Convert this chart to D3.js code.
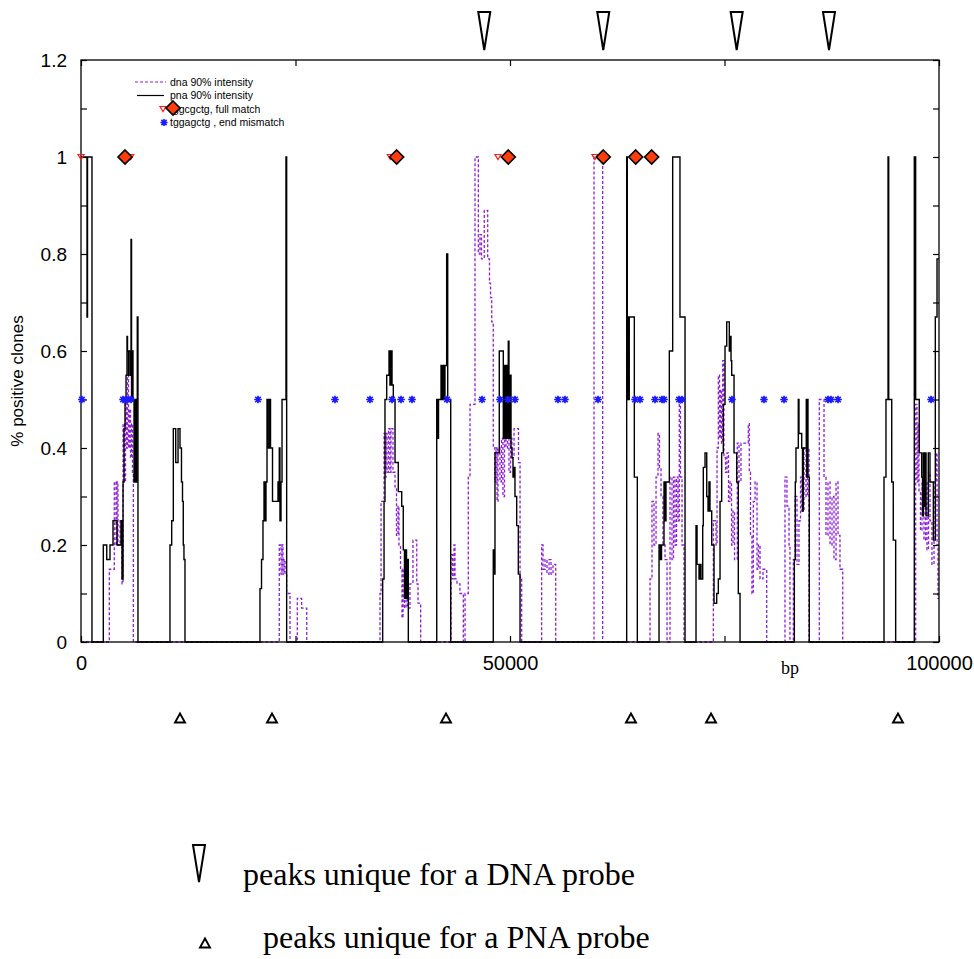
<!DOCTYPE html>
<html>
<head>
<meta charset="utf-8">
<script src="https://cdn.jsdelivr.net/npm/d3@7"></script>
<style>
  body { margin: 0; background: #fff; }
  text { font-family: "Liberation Sans", Arial, sans-serif; }
  .serif { font-family: "Liberation Serif", "Times New Roman", serif; }
</style>
</head>
<body>
<svg id="chart" width="974" height="959"></svg>
<script>
// step traces, [bp, fraction of positive clones]
const dnaSteps = [
  [0,0],
  [3300,0.15],[3880,0.33],[4080,0.2],[4200,0.33],[4310,0.2],[4550,0.25],[4780,0.12],[4900,0.45],[5070,0.33],[5190,0.5],[5300,0.4],[5420,0.55],[5540,0.4],[5650,0.48],[5770,0.38],[5890,0.45],[6000,0.35],[6100,0],
  [23110,0.2],[23310,0.14],[23430,0.2],[23540,0.14],[23660,0.17],[23780,0.14],[23970,0.1],[24360,0],[25210,0.09],[25720,0.07],[26310,0],
  [34850,0.1],[34970,0.29],[35320,0.43],[35430,0.34],[35550,0.43],[35660,0.35],[35840,0.44],[36010,0.35],[36130,0.44],[36360,0.35],[36600,0.32],[36770,0.22],[36950,0.28],[37060,0.2],[37240,0.15],[37410,0.05],[37530,0.15],[37700,0.07],[37880,0.12],[38050,0.07],[38340,0.12],[38690,0.21],[39130,0.12],[39280,0.08],[39590,0],
  [43120,0.18],[43300,0.13],[43470,0.2],[43590,0.13],[43820,0.12],[44170,0.1],[44560,0],[44760,0.1],[45140,0.34],[45340,0.49],[45920,1],[46310,0.8],[46500,0.84],[46680,0.79],[47000,0.89],[47400,0.79],[47610,0.74],[47730,0.71],[47870,0.66],[48050,0.4],[48250,0.33],[48370,0.4],[48490,0.29],[48600,0.4],[48830,0.33],[49010,0.42],[49180,0.3],[49360,0.46],[49530,0.4],[49710,0.46],[49880,0.35],[50060,0.42],[50230,0.38],[50470,0.44],[50990,0.37],[51170,0.13],[51360,0],
  [53690,0.2],[53850,0.15],[54080,0.17],[54310,0.14],[54550,0.17],[54780,0.14],[55010,0.16],[55330,0],
  [59790,1],[60800,0],
  [66320,0.13],[66550,0.29],[66780,0.2],[67020,0.34],[67250,0.43],[67420,0.36],[67600,0.3],[67830,0.2],[68070,0.17],[68300,0],[68650,0.34],[68880,0.17],[69060,0.34],[69230,0.2],[69410,0.34],[69580,0.25],[69730,0.5],[69870,0.34],[70050,0.2],[70280,0],
  [73700,0.25],[74010,0.2],[74130,0.4],[74280,0.55],[74420,0.42],[74530,0.52],[74650,0.41],[74790,0.58],[74940,0.38],[75120,0.35],[75290,0.39],[75470,0.29],[75640,0.33],[75820,0.2],[75990,0.27],[76170,0.17],[76490,0.41],[76690,0.33],[76920,0.41],[77770,0.45],[77890,0.35],[78030,0.22],[78200,0.1],[78360,0.29],[78560,0.33],[78790,0.15],[78960,0.2],[79140,0.13],[79490,0.15],[79920,0],
  [82050,0.34],[82280,0.28],[82520,0.2],[82630,0],[83020,0.17],[83220,0.3],[83450,0.16],[83680,0.25],[83860,0.34],[84030,0.27],[84270,0.4],[84500,0.3],[84670,0.4],[84850,0],
  [86050,0.5],[86600,0.34],[86830,0.22],[87060,0.33],[87300,0.2],[87530,0.3],[87760,0.17],[88000,0.33],[88230,0.22],[88460,0.15],[88780,0],
  [97280,0.49],[97440,0.33],[97550,0.45],[97670,0.31],[97840,0.23],[98020,0.33],[98250,0.21],[98430,0.33],[98600,0.19],[98780,0.35],[98950,0.25],[99180,0.16],[99420,0.33],[99650,0.39],[99770,0.2],[99880,0.09],[100000,0.09]
];

const pnaSteps = [
  [0,1],[700,0.67],[760,1],[1280,0],
  [2600,0.2],[3000,0.17],[3380,0.2],[3730,0.25],[4200,0.2],[4660,0.25],[4780,0.13],[4900,0.33],[5010,0.44],[5130,0.5],[5250,0.55],[5360,0.63],[5420,0.6],[5540,0.55],[5590,0.6],[5770,0.55],[5830,0.83],[5890,0.5],[5940,0.6],[6060,0.5],[6180,0.33],[6240,0.5],[6350,0.33],[6470,0.5],[6560,0.67],[6640,0],
  [10370,0.2],[10570,0.25],[10760,0.44],[11040,0.37],[11310,0.44],[11540,0.4],[11710,0.33],[11830,0.29],[11920,0.2],[12000,0.17],[12120,0],
  [20860,0.11],[21040,0.17],[21210,0.25],[21330,0.33],[21450,0.25],[21560,0.33],[21680,0.5],[21800,0.4],[21970,0.5],[22090,0.4],[22320,0.29],[22960,0.33],[23040,0.29],[23110,0.4],[23190,0.25],[23310,0.33],[23430,0.5],[23890,1],[23970,0],
  [35160,0.13],[35320,0.29],[35430,0.5],[35630,0.55],[35900,0.6],[36010,0.53],[36130,0.6],[36250,0.53],[36400,0.5],[36600,0.37],[36980,0.31],[37380,0.28],[37560,0.19],[37700,0.09],[37820,0.19],[37940,0.09],[38050,0.17],[38150,0],
  [41460,0.5],[41550,0.42],[41670,0.5],[41960,0.57],[42080,0.5],[42190,0.57],[42310,0.5],[42420,0.57],[42620,0.8],[42740,0.5],[43090,0],
  [48050,0.19],[48190,0.14],[48250,0.39],[48750,0.6],[49220,0.42],[49300,0.57],[49420,0.42],[49530,0.57],[49650,0.42],[49800,0.62],[49880,0.42],[50000,0.55],[50120,0.4],[50230,0.38],[50350,0.34],[50470,0.36],[50580,0.3],[50780,0.24],[50970,0.14],[51170,0],
  [63600,1],[63670,0.5],[63750,0.67],[63830,0.5],[63900,0.67],[64490,0.34],[64840,0],
  [67370,0.2],[67540,0.17],[67660,0.2],[67950,0.33],[68070,0.25],[68180,0.33],[68570,0.6],[68960,1],[69810,0.67],[70400,0],
  [71680,0.24],[71800,0.16],[72030,0.13],[72140,0.16],[72260,0.13],[72460,0.24],[72530,0.36],[72730,0.39],[72930,0.3],[73080,0.27],[73190,0.33],[73310,0.27],[73510,0.2],[73780,0.08],[74090,0.1],[74280,0.13],[74480,0.29],[74670,0.39],[74860,0.49],[75060,0.61],[75260,0.66],[75560,0.6],[75640,0.63],[75760,0.58],[75840,0.55],[76110,0.39],[76420,0.33],[76610,0.1],[76810,0],
  [83140,0.17],[83250,0.33],[83330,0.4],[83600,0.5],[83680,0.43],[84000,0.4],[84090,0.27],[84180,0.4],[84530,0.5],[84590,0.34],[84650,0.5],[84730,0.34],[84880,0],
  [93590,0.34],[93820,0.5],[94060,1],[94140,0.5],[94490,0.33],[94670,0.21],[94950,0],
  [97120,1],[97280,0.5],[97700,0.39],[97980,0.34],[98080,0.26],[98170,0.39],[98250,0.28],[98370,0.39],[98490,0.26],[98750,0.39],[98950,0.33],[99340,0.21],[99570,0.67],[99770,0.79],[100000,0.79]
];

// motif sites (bp)
const fullMatch = [0, 5800, 36050, 48600, 59900];          // at 1
const fullMatchDiamonds = [5130, 36790, 49800, 60870, 64650, 66510];
const endMismatch = [100, 4900, 5360, 5830, 20630, 29600, 33680, 36250, 37300, 38580,
  42660, 46740, 48830, 49770, 50580, 55590, 56410, 60260, 64570, 65150, 66900, 67720,
  67950, 69700, 70050, 75870, 79600, 81940, 87060, 87410, 88230, 99070];  // at 0.5

// peaks unique to one probe (bp)
const dnaPeaks = [47000, 60870, 76420, 87180];
const pnaPeaks = [11540, 22260, 42540, 64100, 73430, 95220];

const xTicks = [0, 25000, 50000, 75000, 100000];
const xTickLabels = ["0", "", "50000", "", "100000"];
const yTicks = [0, 0.1, 0.2, 0.3, 0.4, 0.5, 0.6, 0.7, 0.8, 0.9, 1, 1.1, 1.2];
const yTickLabels = ["0", "", "0.2", "", "0.4", "", "0.6", "", "0.8", "", "1", "", "1.2"];

const legendItems = ["dna 90% intensity", "pna 90% intensity", "tggcgctg, full match", "tggagctg , end mismatch"];

const svg = d3.select("#chart");
const plotL = 81, plotR = 939, plotT = 60, plotB = 642;

const x = d3.scaleLinear().domain([0, 100000]).range([plotL, plotR]);
const y = d3.scaleLinear().domain([0, 1.2]).range([plotB, plotT]);

const purple = "#8f1ed8";

const stepLine = d3.line()
  .x(d => x(d[0]))
  .y(d => y(d[1]))
  .curve(d3.curveStepAfter);

svg.append("path")
  .attr("d", stepLine(dnaSteps))
  .attr("fill", "none")
  .attr("stroke", purple)
  .attr("stroke-width", 1.3)
  .attr("stroke-dasharray", "3,2");

svg.append("path")
  .attr("d", stepLine(pnaSteps))
  .attr("fill", "none")
  .attr("stroke", "#000")
  .attr("stroke-width", 1.4);

// frame + inward ticks
svg.append("rect")
  .attr("x", plotL).attr("y", plotT)
  .attr("width", plotR - plotL).attr("height", plotB - plotT)
  .attr("fill", "none").attr("stroke", "#000").attr("stroke-width", 1.3);

const xb = svg.append("g").attr("transform", `translate(0,${plotB})`)
  .call(d3.axisBottom(x).tickValues(xTicks).tickSizeInner(-6).tickSizeOuter(0).tickPadding(14)
    .tickFormat((d, i) => xTickLabels[i]));
const xt = svg.append("g").attr("transform", `translate(0,${plotT})`)
  .call(d3.axisTop(x).tickValues(xTicks).tickSizeInner(-6).tickSizeOuter(0).tickFormat(""));
const yl = svg.append("g").attr("transform", `translate(${plotL},0)`)
  .call(d3.axisLeft(y).tickValues(yTicks).tickSizeInner(-6).tickSizeOuter(0).tickPadding(14)
    .tickFormat((d, i) => yTickLabels[i]));
const yr = svg.append("g").attr("transform", `translate(${plotR},0)`)
  .call(d3.axisRight(y).tickValues(yTicks).tickSizeInner(-6).tickSizeOuter(0).tickFormat(""));

[xb, xt, yl, yr].forEach(g => {
  g.select(".domain").remove();
  g.selectAll("line").attr("stroke-width", 1.2);
  g.selectAll("text").attr("font-family", "Liberation Sans, Arial, sans-serif")
    .attr("font-size", 19).attr("fill", "#000");
});
xb.selectAll("text").attr("font-size", 20);

svg.append("text")
  .attr("class", "serif")
  .attr("x", 790).attr("y", 674)
  .attr("text-anchor", "middle")
  .attr("font-size", 18)
  .text("bp");

svg.append("text")
  .attr("transform", `translate(23,${(plotT + plotB) / 2 + 30}) rotate(-90)`)
  .attr("text-anchor", "middle")
  .attr("font-size", 17)
  .text("% positive clones");

// markers
function star(cx, cy, r) {
  const a = r * 0.72;
  return `M${cx - r},${cy}L${cx + r},${cy}M${cx},${cy - r}L${cx},${cy + r}` +
    `M${cx - a},${cy - a}L${cx + a},${cy + a}M${cx - a},${cy + a}L${cx + a},${cy - a}`;
}
function downTri(cx, cy, w, h) {
  return `M${cx - w / 2},${cy - h / 2}L${cx + w / 2},${cy - h / 2}L${cx},${cy + h / 2}Z`;
}
function upTri(cx, cy, w, h) {
  return `M${cx - w / 2},${cy + h / 2}L${cx + w / 2},${cy + h / 2}L${cx},${cy - h / 2}Z`;
}
function diamond(cx, cy, r) {
  return `M${cx},${cy - r}L${cx + r},${cy}L${cx},${cy + r}L${cx - r},${cy}Z`;
}

svg.append("g").selectAll("path").data(endMismatch).join("path")
  .attr("d", d => star(x(d), y(0.5), 3.8))
  .attr("stroke", "#1a1aff").attr("stroke-width", 1.7).attr("fill", "none");

svg.append("g").selectAll("path").data(fullMatch).join("path")
  .attr("d", d => downTri(x(d), y(1), 6, 5))
  .attr("stroke", "#ff1a1a").attr("stroke-width", 1.2).attr("fill", "none");

svg.append("g").selectAll("path").data(fullMatchDiamonds).join("path")
  .attr("d", d => diamond(x(d), y(1), 7))
  .attr("fill", "#ff3d0a").attr("stroke", "#000").attr("stroke-width", 1.6);

// legend
const lg = svg.append("g").attr("font-size", 10.5);
const rowY = [82, 95.5, 109, 122.5];
lg.append("line").attr("x1", 135).attr("x2", 166).attr("y1", rowY[0]).attr("y2", rowY[0])
  .attr("stroke", purple).attr("stroke-width", 1.2).attr("stroke-dasharray", "3,2");
lg.append("line").attr("x1", 137).attr("x2", 164).attr("y1", rowY[1]).attr("y2", rowY[1])
  .attr("stroke", "#000").attr("stroke-width", 1.2);
lg.selectAll("text").data(legendItems).join("text")
  .attr("x", 170).attr("y", (d, i) => rowY[i] + 3.5)
  .text(d => d);
lg.append("path").attr("d", downTri(163, rowY[2], 6, 5))
  .attr("stroke", "#ff1a1a").attr("stroke-width", 1.2).attr("fill", "none");
lg.append("path").attr("d", diamond(173, rowY[2] - 1, 7))
  .attr("fill", "#ff3d0a").attr("stroke", "#000").attr("stroke-width", 1.6);
lg.append("path").attr("d", star(164, rowY[3], 3.6))
  .attr("stroke", "#1a1aff").attr("stroke-width", 1.6).attr("fill", "none");

// unique-peak annotations
svg.append("g").selectAll("path").data(dnaPeaks).join("path")
  .attr("d", d => `M${x(d) - 6},12L${x(d) + 6},12L${x(d)},50Z`)
  .attr("fill", "#fff").attr("stroke", "#000").attr("stroke-width", 2);

svg.append("g").selectAll("path").data(pnaPeaks).join("path")
  .attr("d", d => upTri(x(d), 718, 10, 9))
  .attr("fill", "#fff").attr("stroke", "#000").attr("stroke-width", 1.9);

// bottom key
svg.append("path").attr("d", "M193,845L205,845L199,882Z")
  .attr("fill", "#fff").attr("stroke", "#000").attr("stroke-width", 2);
svg.append("path").attr("d", upTri(205, 943, 10, 9))
  .attr("fill", "#fff").attr("stroke", "#000").attr("stroke-width", 1.9);

svg.append("text").attr("class", "serif").attr("x", 243).attr("y", 885)
  .attr("font-size", 32).text("peaks unique for a DNA probe");
svg.append("text").attr("class", "serif").attr("x", 263).attr("y", 948)
  .attr("font-size", 32).text("peaks unique for a PNA probe");
</script>
</body>
</html>
